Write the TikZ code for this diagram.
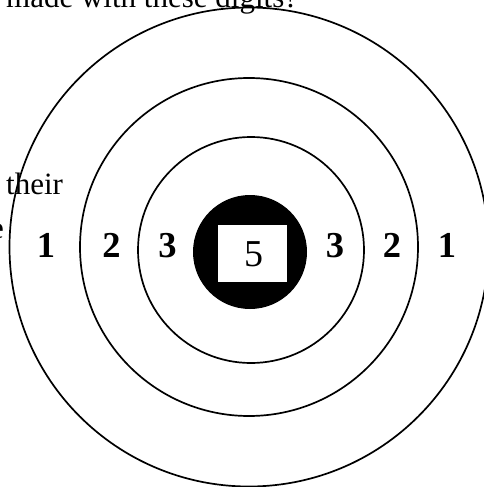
\documentclass[tikz,border=0pt]{standalone}
\usepackage{fontspec}
\setmainfont{Liberation Serif}
\begin{document}
\begin{tikzpicture}[x=1pt,y=-1pt,
  ring/.style={draw=black,line width=1.7pt},
  txt/.style={inner sep=0pt,anchor=base west,font=\fontsize{31}{36}\selectfont},
  digit/.style={inner sep=0pt,anchor=base,font=\fontsize{36.5}{42}\selectfont\bfseries}]
\useasboundingbox (0,0) rectangle (483,487);
\node[txt] (t1) at (6,8) {made with these digits?};
\node[txt] (t2) at (6,194) {their};
\node[txt,anchor=base east] (t3) at (4,238) {e};
\coordinate (c) at (249,247);
\draw[ring] (c) circle[radius=239.5];
\draw[ring] (c) circle[radius=169];
\draw[ring] (251,250) circle[radius=113];
\fill[black] (250,252) circle[radius=57];
\node[fill=white,minimum width=69pt,minimum height=57pt,inner sep=0pt] (box) at (252.5,253.5) {};
\node[inner sep=0pt,anchor=base,font=\fontsize{38}{44}\selectfont] (five) at (253.5,266.5) {5};
\node[digit] (l1) at (46,257) {1};
\node[digit] (l2) at (111.5,257) {2};
\node[digit] (l3) at (167.5,257) {3};
\node[digit] (r3) at (335,257) {3};
\node[digit] (r2) at (392,257) {2};
\node[digit] (r1) at (447,257) {1};
\end{tikzpicture}
\end{document}
